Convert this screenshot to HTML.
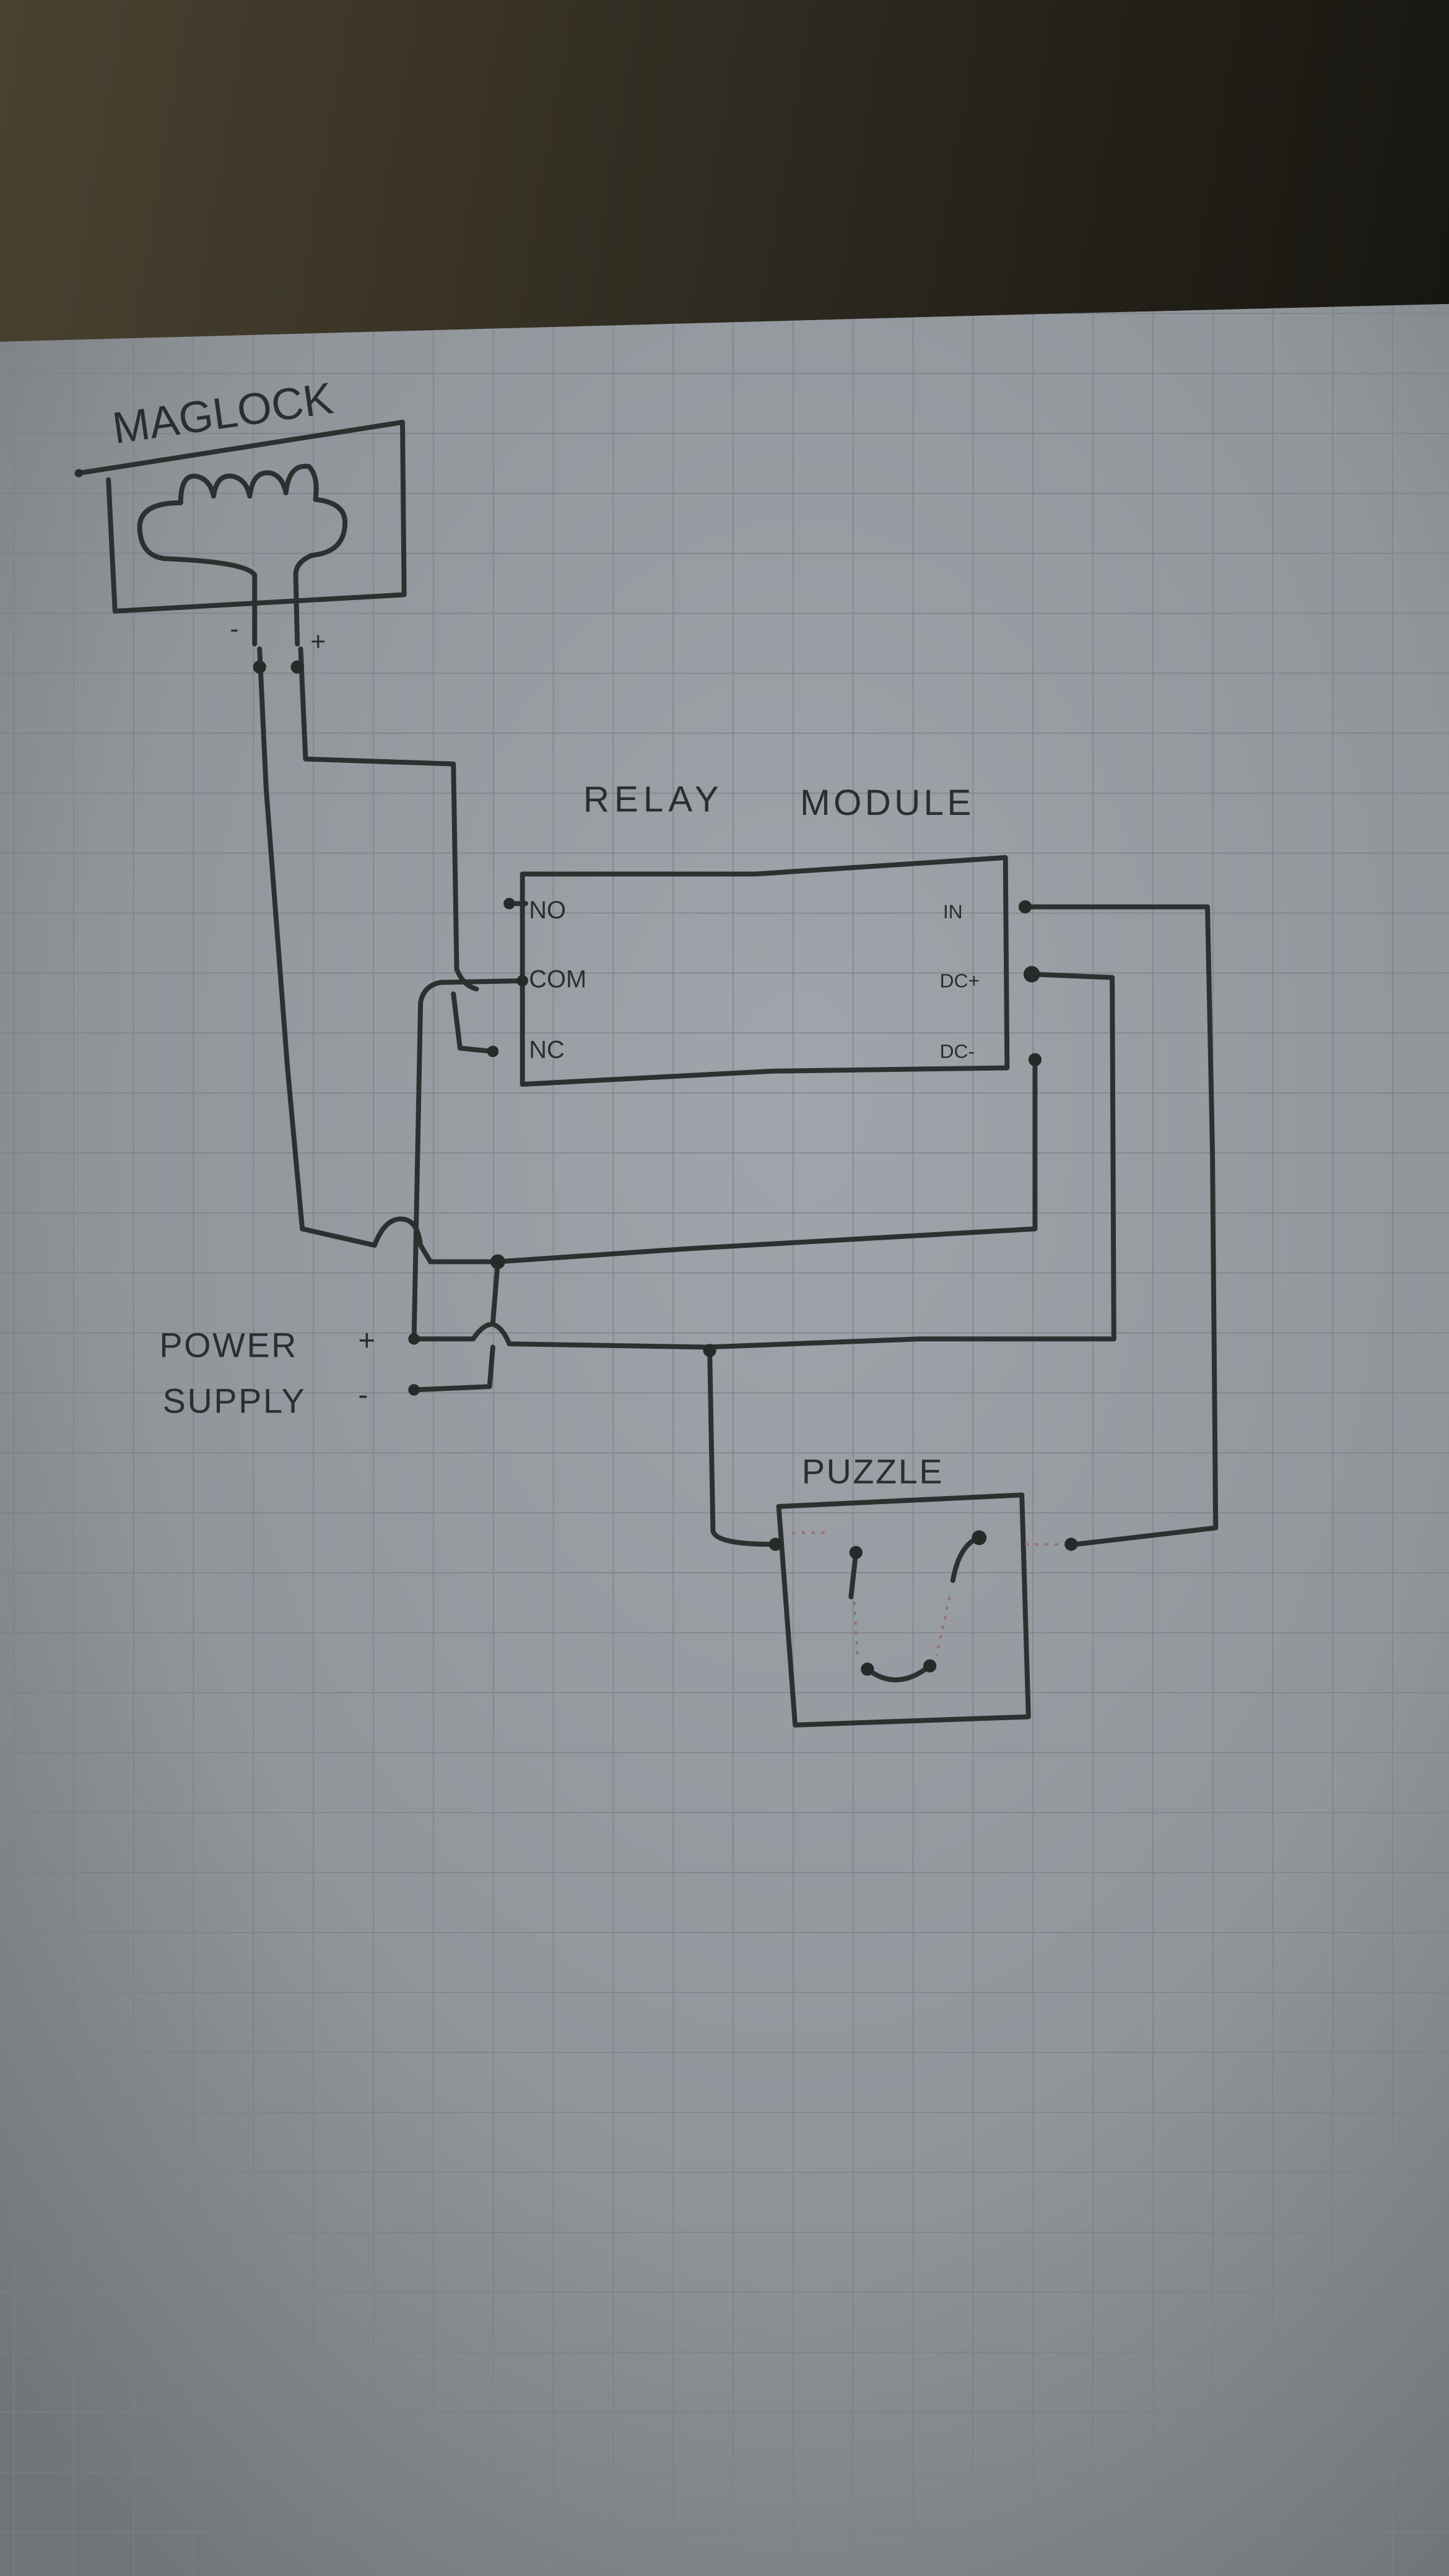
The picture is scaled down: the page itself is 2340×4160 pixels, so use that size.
<!DOCTYPE html>
<html><head><meta charset="utf-8"><style>
html,body{margin:0;padding:0;background:#3a3428}
svg{display:block}
</style></head><body>
<svg width="2340" height="4160" viewBox="0 0 882 1568" xmlns="http://www.w3.org/2000/svg">
<defs>
<linearGradient id="dark" x1="0" y1="0" x2="1" y2="0.3">
<stop offset="0" stop-color="#4a4230"/><stop offset="0.5" stop-color="#2e2a20"/><stop offset="1" stop-color="#15140f"/>
</linearGradient>
<radialGradient id="paper" cx="0.55" cy="0.35" r="0.8">
<stop offset="0" stop-color="#a0a5ab"/><stop offset="0.6" stop-color="#90959a"/><stop offset="1" stop-color="#707476"/>
</radialGradient>
<pattern id="grid" width="36.5" height="36.5" patternUnits="userSpaceOnUse" x="8" y="8">
<path d="M0 0H36.5M0 0V36.5" stroke="#7a8086" stroke-width="1.2" fill="none"/>
</pattern>
</defs>
<rect width="882" height="1568" fill="url(#dark)"/>
<path d="M0 208 L300 200 L600 192 L882 185 L882 1568 L0 1568Z" fill="url(#paper)"/>
<path d="M0 208 L300 200 L600 192 L882 185 L882 1568 L0 1568Z" fill="url(#grid)" opacity="0.85"/>
<g fill="none" stroke="#2c302f" stroke-width="3" stroke-linecap="round" stroke-linejoin="round">
<path d="M48 288 L245 257 L246 362 L70 372 L66 292"/>
<path d="M155 392 L155 350 Q150 342 100 340 Q85 338 85 320 Q86 306 110 306 Q110 288 120 290 Q128 292 130 302 Q132 288 142 290 Q150 292 152 302 Q154 286 165 288 Q172 290 174 300 Q176 282 188 284 Q194 290 192 304 Q210 306 210 318 Q210 336 190 338 Q180 342 180 350 L181 392"/>
<path d="M158 395 L162 480 L175 650 L184 748 L228 758 Q234 742 244 742 Q254 742 256 758 L262 768 L303 768 L420 760 L630 748 L630 645"/>
<path d="M183 395 L186 462 L276 465 L278 590 Q282 600 290 602 M276 605 L280 638 L300 640"/>
<path d="M318 597 L268 598 Q258 600 256 610 L252 815 L288 815 Q294 806 300 806 Q306 808 310 818 L430 820 L560 815 L678 815 L677 595 L628 593"/>
<path d="M252 846 L298 844 L300 820 M300 805 L303 768"/>
<path d="M318 532 L460 532 L612 522 L613 650 L470 652 L318 660 Z"/>
<path d="M624 552 L735 552 L738 700 L740 930 L655 940"/>
<path d="M310 550 L320 550"/>
<path d="M432 822 L434 932 Q436 940 470 940"/>
<path d="M474 917 L622 910 L626 1045 L484 1050 Z"/>
<path d="M521 945 L518 972"/>
<path d="M580 962 Q584 940 596 936"/>
<path d="M528 1016 Q546 1030 566 1014"/>
</g>
<g fill="none" stroke="#9a6f70" stroke-width="1.5" stroke-dasharray="2 4">
<path d="M482 933 L505 933 M520 975 L522 1010 M578 972 L570 1008 M624 940 L648 940"/>
</g>
<g fill="#262a29">
<circle cx="158" cy="406" r="4"/><circle cx="181" cy="406" r="4"/>
<circle cx="310" cy="550" r="3.5"/><circle cx="318" cy="597" r="3.5"/><circle cx="300" cy="640" r="3.5"/>
<circle cx="624" cy="552" r="4"/><circle cx="628" cy="593" r="5"/><circle cx="630" cy="645" r="4"/>
<circle cx="303" cy="768" r="4.5"/><circle cx="252" cy="815" r="3.5"/><circle cx="252" cy="846" r="3.5"/>
<circle cx="432" cy="822" r="4"/><circle cx="472" cy="940" r="4"/><circle cx="652" cy="940" r="4"/>
<circle cx="521" cy="945" r="4"/><circle cx="596" cy="936" r="4.5"/><circle cx="528" cy="1016" r="4"/><circle cx="566" cy="1014" r="4"/>
<circle cx="48" cy="288" r="2.5"/>
</g>
<g font-family="Liberation Sans, sans-serif" fill="#2a2e2d">
<text x="70" y="270" font-size="27" transform="rotate(-8 70 270)">MAGLOCK</text>
<text x="140" y="388" font-size="16">-</text><text x="189" y="396" font-size="16">+</text>
<text x="355" y="494" font-size="22" letter-spacing="3">RELAY</text>
<text x="487" y="496" font-size="22" letter-spacing="2">MODULE</text>
<text x="322" y="559" font-size="15">NO</text>
<text x="322" y="601" font-size="15">COM</text>
<text x="322" y="644" font-size="15">NC</text>
<text x="574" y="559" font-size="12">IN</text>
<text x="572" y="601" font-size="12">DC+</text>
<text x="572" y="644" font-size="12">DC-</text>
<text x="97" y="826" font-size="21" letter-spacing="1">POWER</text>
<text x="99" y="860" font-size="21" letter-spacing="1">SUPPLY</text>
<text x="218" y="822" font-size="18">+</text><text x="218" y="855" font-size="18">-</text>
<text x="488" y="903" font-size="21" letter-spacing="1">PUZZLE</text>
</g>
</svg>
</body></html>
